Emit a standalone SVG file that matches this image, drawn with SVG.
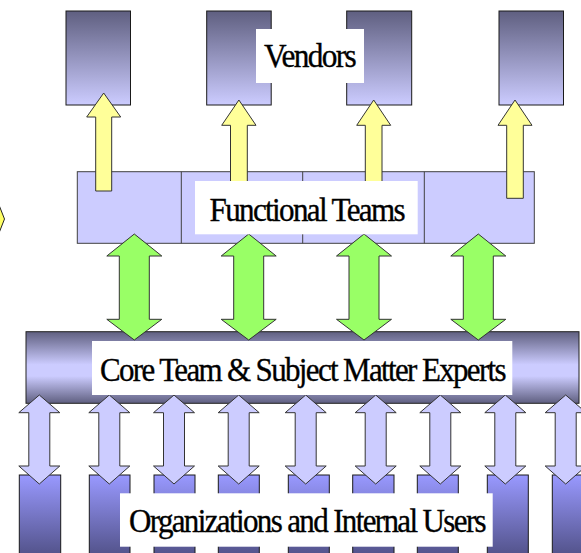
<svg xmlns="http://www.w3.org/2000/svg" xmlns:xlink="http://www.w3.org/1999/xlink" width="581" height="553" viewBox="0 0 581 553">
  <style>
    .vendor { fill: url(#vendorGrad); stroke: #1a1a1a; stroke-width: 1; }
    .org { fill: url(#orgGrad); stroke: #1a1a1a; stroke-width: 1; }
    .team { fill: #ccccff; stroke: #404040; stroke-width: 1; }
    .yellow { fill: #ffff99; stroke: #333333; stroke-width: 1; }
    .green { fill: #99ff66; stroke: #333333; stroke-width: 1; }
    .lav { fill: #ccccff; stroke: #333333; stroke-width: 1; }
    .labelbox { fill: #ffffff; stroke: none; }
    .label { font-family: 'Liberation Serif', 'Times New Roman', serif; font-size: 34px; letter-spacing: -1.8px; fill: #000000; stroke: #000000; stroke-width: 0.35; }
  </style>
  <defs>
    <linearGradient id="vendorGrad" x1="0" y1="0" x2="0" y2="1">
      <stop offset="0" stop-color="#5f5f80"/>
      <stop offset="1" stop-color="#ccccff"/>
    </linearGradient>
    <linearGradient id="coreGrad" x1="0" y1="0" x2="0" y2="1">
      <stop offset="0" stop-color="#5f5f80"/>
      <stop offset="0.46" stop-color="#ccccff"/>
      <stop offset="0.62" stop-color="#ccccff"/>
      <stop offset="1" stop-color="#5f5f80"/>
    </linearGradient>
    <linearGradient id="orgGrad" x1="0" y1="0" x2="0" y2="1">
      <stop offset="0" stop-color="#9999ff"/>
      <stop offset="1" stop-color="#4a4a7c"/>
    </linearGradient>
    <polygon id="greenArrow" points="0,234 27.5,256 15,256 15,319.3 27.5,319.3 0,340 -27.5,319.3 -15,319.3 -15,256 -27.5,256"/>
    <polygon id="lavArrow" points="0,395 20.5,412.7 10.5,412.7 10.5,466 20.5,466 0,484 -20.5,466 -10.5,466 -10.5,412.7 -20.5,412.7"/>
  </defs>

  <rect width="581" height="553" fill="#ffffff"/>

  <g id="edge-marker">
    <polygon points="-12,205 -1,205 4.5,219 -1,233 -12,233" fill="#ffff66" stroke="#222222" stroke-width="1"/>
  </g>

  <g id="vendors">
    <rect class="vendor" x="66" y="11" width="64.5" height="94"/>
    <rect class="vendor" x="206.7" y="11" width="64.5" height="94"/>
    <rect class="vendor" x="346.7" y="11" width="65" height="94"/>
    <rect class="vendor" x="499" y="11" width="64.5" height="94"/>
  </g>

  <g id="functional-teams">
    <rect class="team" x="77.3" y="171.7" width="457" height="71.6"/>
    <line x1="181.3" y1="171.7" x2="181.3" y2="243.3" stroke="#404040" stroke-width="1"/>
    <line x1="302.7" y1="171.7" x2="302.7" y2="243.3" stroke="#404040" stroke-width="1"/>
    <line x1="424.3" y1="171.7" x2="424.3" y2="243.3" stroke="#404040" stroke-width="1"/>
  </g>

  <g id="core-team">
    <rect x="26" y="331.7" width="553" height="71.6" fill="url(#coreGrad)" stroke="#222222" stroke-width="1"/>
  </g>

  <g id="organizations">
    <rect class="org" x="19.3" y="475" width="41.4" height="90"/>
    <rect class="org" x="89.3" y="475" width="40.7" height="90"/>
    <rect class="org" x="154" y="475" width="41" height="90"/>
    <rect class="org" x="218.3" y="475" width="41" height="90"/>
    <rect class="org" x="288.3" y="475" width="41" height="90"/>
    <rect class="org" x="352.7" y="475" width="41.3" height="90"/>
    <rect class="org" x="417.3" y="475" width="41" height="90"/>
    <rect class="org" x="487.3" y="475" width="41" height="90"/>
    <rect class="org" x="552.3" y="475" width="41" height="90"/>
  </g>

  <g id="connectors">
    <polygon class="yellow" points="103.7,93 120.7,117 111.7,117 111.7,191 95.7,191 95.7,117 86.7,117"/>
    <polygon class="yellow" points="238.9,100 256,125.3 247.3,125.3 247.3,198 230.5,198 230.5,125.3 221.7,125.3"/>
    <polygon class="yellow" points="373.7,100 390.7,125.3 382,125.3 382,198 365.3,198 365.3,125.3 356.7,125.3"/>
    <polygon class="yellow" points="515,100 532,125.3 523.3,125.3 523.3,198.3 506.7,198.3 506.7,125.3 498,125.3"/>

    <use href="#greenArrow" xlink:href="#greenArrow" class="green" x="134.3"/>
    <use href="#greenArrow" xlink:href="#greenArrow" class="green" x="248.7"/>
    <use href="#greenArrow" xlink:href="#greenArrow" class="green" x="364"/>
    <use href="#greenArrow" xlink:href="#greenArrow" class="green" x="478.3"/>

    <use href="#lavArrow" xlink:href="#lavArrow" class="lav" x="39.3"/>
    <use href="#lavArrow" xlink:href="#lavArrow" class="lav" x="109.3"/>
    <use href="#lavArrow" xlink:href="#lavArrow" class="lav" x="174"/>
    <use href="#lavArrow" xlink:href="#lavArrow" class="lav" x="238.7"/>
    <use href="#lavArrow" xlink:href="#lavArrow" class="lav" x="305.7"/>
    <use href="#lavArrow" xlink:href="#lavArrow" class="lav" x="375.7"/>
    <use href="#lavArrow" xlink:href="#lavArrow" class="lav" x="440.3"/>
    <use href="#lavArrow" xlink:href="#lavArrow" class="lav" x="505.3"/>
    <use href="#lavArrow" xlink:href="#lavArrow" class="lav" x="565.7"/>
  </g>

  <g id="label-vendors">
    <rect class="labelbox" x="256" y="29" width="108" height="54"/>
    <text class="label" x="264" y="67" textLength="91" lengthAdjust="spacingAndGlyphs">Vendors</text>
  </g>

  <g id="label-functional-teams">
    <rect class="labelbox" x="195" y="181" width="222.7" height="53.3"/>
    <text class="label" x="209.5" y="221" textLength="194.5" lengthAdjust="spacingAndGlyphs">Functional Teams</text>
  </g>

  <g id="label-core-team">
    <rect class="labelbox" x="92" y="341" width="420.3" height="54"/>
    <text class="label" x="100" y="381" textLength="405" lengthAdjust="spacingAndGlyphs">Core Team &amp; Subject Matter Experts</text>
  </g>

  <g id="label-organizations">
    <rect class="labelbox" x="120" y="493.3" width="372.7" height="53.4"/>
    <text class="label" x="129" y="532" textLength="356" lengthAdjust="spacingAndGlyphs">Organizations and Internal Users</text>
  </g>
</svg>
